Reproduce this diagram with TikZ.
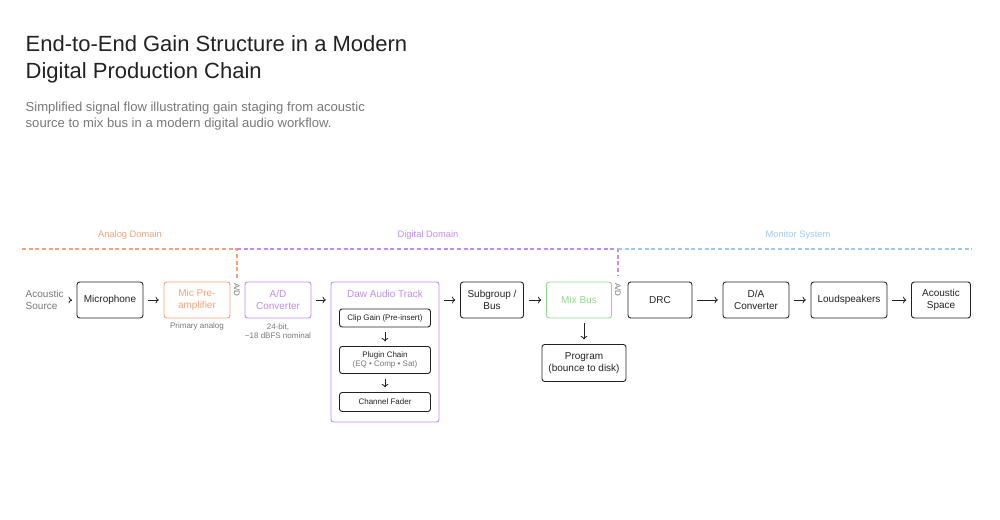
\documentclass[tikz,border=0pt]{standalone}
\usepackage{fontspec}
\setmainfont{Liberation Sans}
\usetikzlibrary{arrows.meta}
\definecolor{ink}{HTML}{222222}
\definecolor{note}{HTML}{777777}
\definecolor{analog}{HTML}{F5A27A}
\definecolor{digital}{HTML}{C48AF0}
\definecolor{monitor}{HTML}{9CCBF2}
\definecolor{mix}{HTML}{8ED98A}
\tikzset{
	blk/.style={draw=ink, rounded corners=2pt, line width=0.7pt, align=center,
		font=\fontsize{7.5}{8.5}\selectfont, text=ink, inner sep=0pt},
	sz/.style 2 args={minimum width=#1*0.75pt, minimum height=#2*0.75pt},
	sub/.style={blk, font=\fontsize{6}{7}\selectfont},
	lbl/.style={font=\fontsize{6}{7}\selectfont, text=note, align=center},
	dom/.style={font=\fontsize{7}{8}\selectfont},
	sep/.style={dash pattern=on 3pt off 2pt, line width=0.8pt},
	flow/.style={-{To[length=2.5pt,width=5pt]}, ink, line width=0.6pt, shorten >=3.5pt, shorten <=3.5pt},
}
\begin{document}
\begin{tikzpicture}[x=0.75pt, y=-0.75pt]
	\useasboundingbox (0,0) rectangle (1000,519);

	% heading
	\node [anchor=west, font=\fontsize{16.5}{20.5}\selectfont, text=ink, align=left] (title) at (21,59)
		{End-to-End Gain Structure in a Modern\\Digital Production Chain};
	\node [anchor=west, font=\fontsize{9.8}{12.5}\selectfont, text=note, align=left] (subtitle) at (21,116)
		{Simplified signal flow illustrating gain staging from acoustic\\source to mix bus in a modern digital audio workflow.};

	% domains
	\node [dom, text=analog] (d_analog) at (130,235) {Analog Domain};
	\node [dom, text=digital] (d_digital) at (428,235) {Digital Domain};
	\node [dom, text=monitor] (d_monitor) at (798,235) {Monitor System};
	\draw [sep, analog] (22,249) -- (237,249) -- (237,278);
	\draw [sep, digital] (237,249) -- (618,249) -- (618,276);
	\draw [sep, monitor] (618,249) -- (972,249);
	\node [lbl, rotate=-90] (ad_1) at (237,290) {A/D};
	\node [lbl, rotate=-90] (ad_2) at (618,290) {A/D};

	% signal chain
	\node [lbl, font=\fontsize{7.5}{8.5}\selectfont, align=left, anchor=west] (source) at (21,300) {Acoustic\\Source};
	\node [blk, sz={66}{36}] (mic) at (110,300) {Microphone};
	\node [blk, draw=analog, text=analog, sz={66}{36}] (pre) at (197,300) {Mic Pre-\\amplifier};
	\node [blk, draw=digital, text=digital, sz={66}{36}] (adc) at (278,300) {A/D\\Converter};
	\node [blk, draw=digital, sz={108}{140}] (daw) at (385,352) {};
	\node [font=\fontsize{7.5}{8.5}\selectfont, text=digital] (daw_t) at (385,294) {Daw Audio Track};
	\node [sub, sz={91}{18}] (clip) at (385,318) {Clip Gain (Pre-insert)};
	\node [sub, sz={91}{27}] (plug) at (385,360) {Plugin Chain\\{\color{note}(EQ • Comp • Sat)}};
	\node [sub, sz={91}{19}] (fader) at (385,402) {Channel Fader};
	\node [blk, sz={63}{36}] (grp) at (492,300) {Subgroup /\\Bus};
	\node [blk, draw=mix, text=mix, sz={65}{36}] (mixbus) at (579,300) {Mix Bus};
	\node [blk, sz={84}{37}] (prog) at (584,363) {Program\\(bounce to disk)};
	\node [blk, sz={64}{36}] (drc) at (660,300) {DRC};
	\node [blk, sz={66}{36}] (dac) at (756,300) {D/A\\Converter};
	\node [blk, sz={76}{36}] (spk) at (849,300) {Loudspeakers};
	\node [blk, sz={59}{36}] (space) at (941,300) {Acoustic\\Space};

	% notes
	\node [lbl] (n_pre) at (197,326) {Primary analog};
	\node [lbl] (n_adc) at (278,331) {24-bit,\\−18 dBFS nominal};

	% connectors
	\draw [flow, shorten <=2pt] (source) -- (mic);
	\draw [flow] (mic) -- (pre);
	\draw [flow] (adc) -- (daw.west |- adc);
	\draw [flow] (daw.east |- grp) -- (grp);
	\draw [flow] (grp) -- (mixbus);
	\draw [flow] (mixbus.south -| prog) -- (prog);
	\draw [flow] (drc) -- (dac);
	\draw [flow] (dac) -- (spk);
	\draw [flow] (spk) -- (space);
	\draw [flow] (clip) -- (plug);
	\draw [flow] (plug) -- (fader);
\end{tikzpicture}
\end{document}
